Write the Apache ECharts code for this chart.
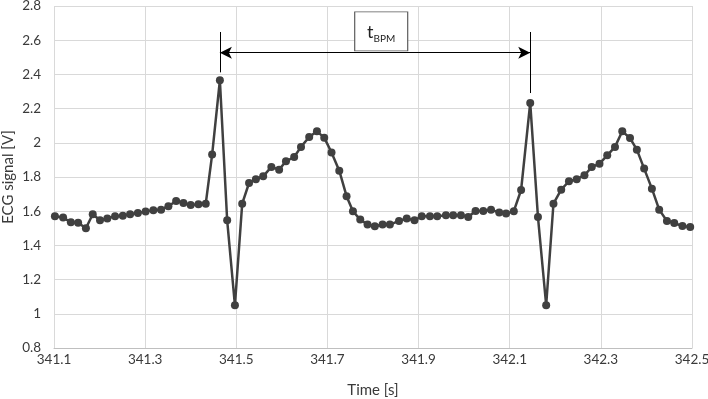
<!DOCTYPE html>
<html>
<head>
<meta charset="utf-8">
<script src="https://cdn.jsdelivr.net/npm/echarts@6/dist/echarts.min.js"></script>
<style>
  html, body { margin: 0; padding: 0; background: #fff; }
  #chart { width: 708px; height: 399px; }
</style>
</head>
<body>
<div id="chart"></div>
<script>
// sample times [s]
const times = [
  341.102, 341.120, 341.137, 341.153, 341.170, 341.185, 341.201, 341.217, 341.234, 341.251,
  341.267, 341.284, 341.301, 341.318, 341.335, 341.351, 341.368, 341.384, 341.400, 341.417,
  341.433, 341.447, 341.464, 341.480, 341.497, 341.513, 341.528, 341.543, 341.559, 341.577,
  341.594, 341.609, 341.627, 341.642, 341.660, 341.677, 341.693, 341.709, 341.726, 341.742,
  341.756, 341.772, 341.788, 341.804, 341.821, 341.837, 341.857, 341.874, 341.891, 341.907,
  341.925, 341.941, 341.960, 341.976, 341.993, 342.009, 342.025, 342.042, 342.059, 342.077,
  342.092, 342.109, 342.125, 342.145, 342.162, 342.180, 342.196, 342.213, 342.230, 342.247,
  342.264, 342.280, 342.297, 342.314, 342.331, 342.347, 342.364, 342.379, 342.395, 342.412,
  342.428, 342.445, 342.461, 342.479, 342.496
];

// ECG signal [V]
const signal = [
  1.570, 1.563, 1.535, 1.533, 1.500, 1.582, 1.547, 1.558, 1.570, 1.574,
  1.582, 1.590, 1.598, 1.605, 1.609, 1.629, 1.660, 1.648, 1.636, 1.640,
  1.644, 1.931, 2.366, 1.547, 1.050, 1.644, 1.765, 1.787, 1.804, 1.859,
  1.843, 1.892, 1.917, 1.976, 2.034, 2.067, 2.030, 1.943, 1.837, 1.688,
  1.600, 1.551, 1.522, 1.512, 1.522, 1.522, 1.543, 1.557, 1.547, 1.570,
  1.570, 1.570, 1.576, 1.576, 1.576, 1.566, 1.601, 1.601, 1.609, 1.592,
  1.586, 1.600, 1.724, 2.233, 1.566, 1.050, 1.644, 1.726, 1.775, 1.787,
  1.810, 1.858, 1.878, 1.927, 1.976, 2.067, 2.028, 1.960, 1.849, 1.732,
  1.609, 1.543, 1.531, 1.513, 1.508
];

// the two R peaks the t_BPM arrow spans
const peakTimes = [341.464, 342.145];
const peakTops = [2.412, 2.291];
const markerTop = 2.648;
const arrowLevel = 2.527;
const boxLabel = { x: 341.818, y: 2.652 };

const FONT = 'Lato, "Open Sans", sans-serif';
const TEXT = '#3a3a3a';

let chart = echarts.init(document.getElementById('chart'));

let points = times.map((t, i) => [t, signal[i]]);

let option = {
  animation: false,
  textStyle: { fontFamily: FONT },
  grid: { left: 54, right: 16, top: 6, bottom: 51, containLabel: false, outerBoundsMode: 'none' },
  xAxis: {
    type: 'value',
    min: 341.1,
    max: 342.5,
    interval: 0.2,
    name: 'Time [s]',
    nameLocation: 'middle',
    nameGap: 35,
    nameMoveOverlap: false,
    nameTextStyle: { fontSize: 15, color: TEXT, fontFamily: FONT },
    axisLine: { show: true, lineStyle: { color: '#bfbfbf', width: 1 } },
    axisTick: { show: false },
    axisLabel: {
      fontSize: 13.5, color: TEXT, margin: 5, fontFamily: FONT,
      formatter: v => v.toFixed(1)
    },
    splitLine: { show: true, lineStyle: { color: '#d9d9d9', width: 1 } }
  },
  yAxis: {
    type: 'value',
    min: 0.8,
    max: 2.8,
    interval: 0.2,
    name: 'ECG signal [V]',
    nameLocation: 'middle',
    nameGap: 38,
    nameMoveOverlap: false,
    nameTextStyle: { fontSize: 15, color: TEXT, fontFamily: FONT },
    axisLine: { show: false },
    axisTick: { show: false },
    axisLabel: {
      fontSize: 13.5, color: TEXT, margin: 13, fontFamily: FONT,
      formatter: v => String(Math.round(v * 10) / 10)
    },
    splitLine: { show: true, lineStyle: { color: '#d9d9d9', width: 1 } }
  },
  series: [{
    type: 'line',
    data: points,
    symbol: 'circle',
    symbolSize: 8,
    showAllSymbol: true,
    lineStyle: { color: '#404040', width: 2.5 },
    itemStyle: { color: '#404040' },
    z: 3,
    markLine: {
      silent: true,
      animation: false,
      label: { show: false },
      lineStyle: { color: '#000', width: 1, type: 'solid' },
      symbol: ['none', 'none'],
      data: [
        [
          { coord: [peakTimes[0], markerTop], symbol: 'none' },
          { coord: [peakTimes[0], peakTops[0]], symbol: 'none' }
        ],
        [
          { coord: [peakTimes[1], markerTop], symbol: 'none' },
          { coord: [peakTimes[1], peakTops[1]], symbol: 'none' }
        ],
        [
          { coord: [peakTimes[0], arrowLevel], symbol: 'arrow', symbolSize: [9, 12] },
          { coord: [peakTimes[1], arrowLevel], symbol: 'arrow', symbolSize: [9, 12] }
        ]
      ]
    },
    markPoint: {
      silent: true,
      animation: false,
      data: [{
        coord: [boxLabel.x, boxLabel.y],
        symbol: 'rect',
        symbolSize: [53, 39],
        itemStyle: { color: '#fff', borderColor: '#595959', borderWidth: 1 },
        label: {
          show: true,
          position: 'inside',
          formatter: '{t|t}{s|BPM}',
          rich: {
            t: { fontSize: 18, color: '#222', fontFamily: FONT, verticalAlign: 'bottom', lineHeight: 20 },
            s: { fontSize: 10, color: '#222', fontFamily: FONT, verticalAlign: 'bottom', lineHeight: 20, padding: [0, 0, -2, 0] }
          }
        }
      }]
    }
  }]
};

chart.setOption(option);
</script>
</body>
</html>
